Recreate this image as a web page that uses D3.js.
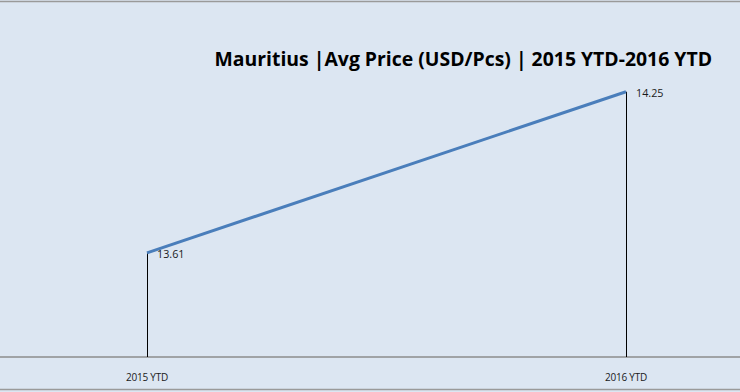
<!DOCTYPE html>
<html><head><meta charset="utf-8">
<script src="https://cdn.jsdelivr.net/npm/d3@7"></script>
<style>html,body{margin:0;padding:0;background:#dce6f2;}svg{display:block;}</style>
</head><body>
<script>
const categories = ["2015 YTD", "2016 YTD"];
const values = [13.61, 14.25];
const valueLabels = ["13.61", "14.25"];
const title = "Mauritius |Avg Price (USD/Pcs) | 2015 YTD-2016 YTD";

const W = 740, H = 392;
const svg = d3.select("body").append("svg").attr("width", W).attr("height", H);
svg.append("rect").attr("x", 0).attr("y", 0).attr("width", W).attr("height", H).attr("fill", "#dce6f2");
svg.append("rect").attr("x", -1).attr("y", 1.5).attr("width", W + 2).attr("height", 388)
  .attr("fill", "none").attr("stroke", "#9a9a9a").attr("stroke-width", 1.5);

const x = d3.scalePoint().domain(categories).range([147, 626]);
const y = d3.scaleLinear().domain([13.2, 14.4]).range([356, 54]);
const axisY = 357;

// axis line
svg.append("line").attr("x1", 0).attr("x2", W).attr("y1", axisY).attr("y2", axisY)
  .attr("stroke", "#8c8c8c").attr("stroke-width", 1.5);

// drop lines
svg.selectAll(".drop").data(values).join("line")
  .attr("x1", (d, i) => x(categories[i]) + 0.5).attr("x2", (d, i) => x(categories[i]) + 0.5)
  .attr("y1", d => y(d)).attr("y2", axisY)
  .attr("stroke", "#000").attr("stroke-width", 1);

// line
const line = d3.line().x((d, i) => x(categories[i])).y(d => y(d));
svg.append("path").datum(values).attr("d", line).attr("fill", "none")
  .attr("stroke", "#4a7ebb").attr("stroke-width", 3).attr("stroke-linecap", "butt");

// data labels
svg.selectAll(".dl").data(values).join("text")
  .attr("x", (d, i) => x(categories[i]) + 10).attr("y", d => y(d) + 5)
  .attr("font-family", "'Open Sans', sans-serif").attr("font-size", 10.8).attr("fill", "#1a1a1a")
  .text((d, i) => valueLabels[i]);

// category labels
svg.selectAll(".cl").data(categories).join("text")
  .attr("x", d => x(d)).attr("y", 381).attr("text-anchor", "middle")
  .attr("font-family", "'Open Sans', sans-serif").attr("font-size", 10).attr("letter-spacing", -0.2).attr("fill", "#1a1a1a")
  .text(d => d);

// title
svg.append("text").attr("x", 712).attr("y", 66).attr("text-anchor", "end")
  .attr("font-family", "'Open Sans', sans-serif").attr("font-weight", "bold").attr("font-size", 19.4)
  .attr("fill", "#000").text(title);
</script>
</body></html>
